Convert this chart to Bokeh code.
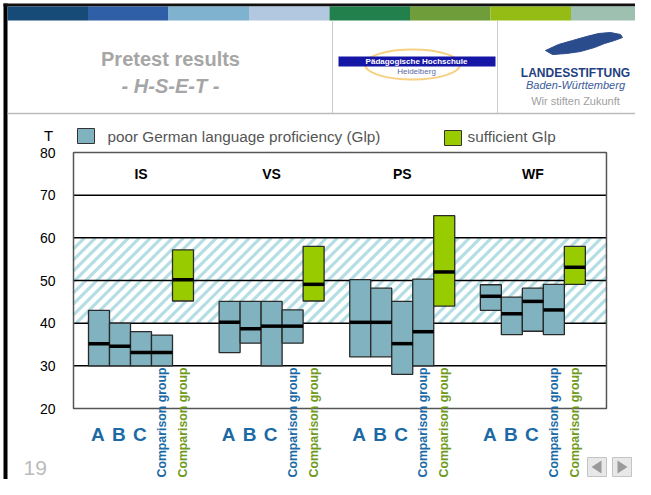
import numpy as np
from bokeh.plotting import figure
from bokeh.models import LinearAxis, FixedTicker, Range1d
from bokeh.core.properties import value
from bokeh.embed import file_html
from bokeh.resources import INLINE

# ---------------- data ----------------
subtests = ["IS", "VS", "PS", "WF"]
abc_labels = ["A", "B", "C"]
comp_label = "Comparison group"
y_ticks = [20, 30, 40, 50, 60, 70, 80]
grid_levels = [30, 40, 50, 60, 70]
band = [40, 60]

# per subtest: A, B, C, comparison (poor Glp), comparison (sufficient Glp)
is_min = [30.0, 30.0, 30.0, 30.0, 45.2]
is_med = [35.2, 34.6, 33.1, 33.1, 50.2]
is_max = [43.0, 40.0, 38.0, 37.2, 57.2]
vs_min = [33.1, 35.3, 30.0, 35.3, 45.2]
vs_med = [40.2, 38.7, 39.3, 39.3, 49.1]
vs_max = [45.1, 45.1, 45.1, 43.1, 58.0]
ps_min = [32.1, 32.1, 28.0, 30.0, 44.0]
ps_med = [40.2, 40.2, 35.2, 38.0, 52.0]
ps_max = [50.2, 48.2, 45.1, 50.3, 65.2]
wf_min = [43.0, 37.3, 38.1, 37.3, 49.1]
wf_med = [46.3, 42.2, 45.1, 43.1, 53.1]
wf_max = [49.0, 46.1, 48.2, 49.1, 58.0]

mins = [is_min, vs_min, ps_min, wf_min]
meds = [is_med, vs_med, ps_med, wf_med]
maxs = [is_max, vs_max, ps_max, wf_max]

# ---------------- layout constants ----------------
FONT = "Liberation Sans"
TEAL = "#80b2bf"
GREEN = "#99cc00"
BLUE_TXT = "#1b6aa6"
GREEN_TXT = "#6f9a1c"
W, H = 635, 479
PX_PER_U = 21.0           # one bar slot
LEFT_PX, TOP_PX = 73.0, 152.0
PX_PER_T = 256.0 / 60.0
first_offset, group_step = 0.714, 6.22
plot_left, plot_right = 0.0, 25.38

def sx(px):
    return (px - LEFT_PX) / PX_PER_U

def sy(py):
    return 80.0 - (py - TOP_PX) / PX_PER_T

def su(w):  # width in px -> x units
    return w / PX_PER_U

def st(h):  # height in px -> y units
    return h / PX_PER_T

p = figure(width=W, height=H, x_range=Range1d(sx(0), sx(W)),
           y_range=Range1d(sy(H), sy(0)), x_axis_type=None, y_axis_type=None,
           toolbar_location=None, output_backend="svg", min_border=0,
           outline_line_color=None, title=None)
p.background_fill_color = "white"
p.border_fill_color = "white"

# ---------------- slide frame & header ----------------
p.quad(left=[sx(3)], right=[sx(7)], bottom=[sy(H)], top=[sy(3)], fill_color="black", line_color=None)
p.quad(left=[sx(3)], right=[sx(W)], bottom=[sy(6)], top=[sy(3)], fill_color="#111111", line_color=None)
stripe_cols = ["#154b76", "#2f5fa6", "#7fb2cf", "#b1c8e0",
               "#21804b", "#6f9d3a", "#95bb15", "#9dc0b1"]
edges = [7 + i * 80.5 for i in range(9)]
p.quad(left=[sx(e) for e in edges[:-1]], right=[sx(e) for e in edges[1:]],
       bottom=sy(20), top=sy(6), fill_color=stripe_cols, line_color=None)
p.segment(x0=[sx(332), sx(497)], x1=[sx(332), sx(497)], y0=sy(20), y1=sy(113),
          line_color="#cccccc", line_width=1)
p.segment(x0=sx(7), x1=sx(W), y0=sy(113), y1=sy(113), line_color="#bbbbbb", line_width=1.5)

p.text(x=[sx(170)], y=[sy(58)], text=["Pretest results"], text_align="center",
       text_baseline="middle", text_font=value(FONT), text_font_style="bold",
       text_font_size="20px", text_color="#a6a6a6")
p.text(x=[sx(170)], y=[sy(85)], text=["- H-S-E-T -"], text_align="center",
       text_baseline="middle", text_font=value(FONT), text_font_style="bold italic",
       text_font_size="20px", text_color="#a6a6a6")

# logo 1
p.ellipse(x=[sx(412)], y=[sy(64)], width=su(95), height=st(30), fill_color=None,
          line_color="#f2bc4a", line_width=2, line_alpha=0.7)
p.quad(left=[sx(338)], right=[sx(495)], bottom=[sy(66)], top=[sy(56)],
       fill_color="#1616a6", line_color=None)
p.text(x=[sx(416)], y=[sy(61)], text=["Pädagogische Hochschule"], text_align="center",
       text_baseline="middle", text_font=value(FONT), text_font_style="bold",
       text_font_size="8px", text_color="white")
p.text(x=[sx(416)], y=[sy(71)], text=["Heidelberg"], text_align="center",
       text_baseline="middle", text_font=value(FONT), text_font_size="8px",
       text_color="#5a6aa8")

# logo 2
lion_x = [545, 558, 572, 586, 598, 610, 620, 622, 614, 604, 594, 580, 566, 552]
lion_y = [50, 44, 40, 36, 33, 32, 34, 37, 40, 43, 47, 51, 53, 54]
p.patch(x=[sx(v) for v in lion_x], y=[sy(v) for v in lion_y],
        fill_color="#2b4c8c", line_color="#2b4c8c")
p.text(x=[sx(575)], y=[sy(72)], text=["LANDESSTIFTUNG"], text_align="center",
       text_baseline="middle", text_font=value(FONT), text_font_style="bold",
       text_font_size="12px", text_color="#22407e")
p.text(x=[sx(575)], y=[sy(84)], text=["Baden-Württemberg"], text_align="center",
       text_baseline="middle", text_font=value(FONT), text_font_style="italic",
       text_font_size="11px", text_color="#3a5a9a")
p.text(x=[sx(575)], y=[sy(100)], text=["Wir stiften Zukunft"], text_align="center",
       text_baseline="middle", text_font=value(FONT), text_font_size="11px",
       text_color="#a0a0a0")

# ---------------- legend row ----------------
p.text(x=[sx(48)], y=[sy(135)], text=["T"], text_align="center", text_baseline="middle",
       text_font=value(FONT), text_font_size="15px", text_color="black")
p.quad(left=[sx(77)], right=[sx(94)], bottom=[sy(143)], top=[sy(128)],
       fill_color=TEAL, line_color="#333333", line_width=1)
p.text(x=[sx(107)], y=[sy(136)], text=["poor German language proficiency (Glp)"],
       text_align="left", text_baseline="middle", text_font=value(FONT),
       text_font_size="15.3px", text_color="#555555")
p.quad(left=[sx(444)], right=[sx(461)], bottom=[sy(145)], top=[sy(130)],
       fill_color=GREEN, line_color="#333333", line_width=1)
p.text(x=[sx(467)], y=[sy(136)], text=["sufficient Glp"],
       text_align="left", text_baseline="middle", text_font=value(FONT),
       text_font_size="15.3px", text_color="#555555")

# ---------------- chart ----------------
# diagonal (45 degree on screen) stripes filling the 40-60 band, clipped to the plot
slope = PX_PER_T / PX_PER_U          # x-units per T-unit for a 45 degree stripe
span = (band[1] - band[0]) * slope
hx0, hx1, hy0, hy1 = [], [], [], []
for c in np.arange(plot_left - span, plot_right, su(11)):
    y0 = max(band[0], band[0] + (plot_left - c) / slope)
    y1 = min(band[1], band[0] + (plot_right - c) / slope)
    if y1 > y0:
        hx0.append(c + (y0 - band[0]) * slope)
        hy0.append(y0)
        hx1.append(c + (y1 - band[0]) * slope)
        hy1.append(y1)
p.segment(x0=hx0, y0=hy0, x1=hx1, y1=hy1, line_color="#b5dee4", line_width=3.2,
          line_cap="butt")
p.segment(x0=plot_left, x1=plot_right, y0=grid_levels, y1=grid_levels,
          line_color="black", line_width=1.5)
p.quad(left=[plot_left], right=[plot_right], bottom=[y_ticks[0]], top=[y_ticks[-1]],
       fill_color=None, line_color="#555555", line_width=1.5)

xs, lo, hi, md, cols = [], [], [], [], []
for g in range(len(subtests)):
    start = first_offset + g * group_step
    for i in range(5):
        xs.append(start + i + 0.5)
        lo.append(mins[g][i])
        hi.append(maxs[g][i])
        md.append(meds[g][i])
        cols.append(GREEN if i == 4 else TEAL)
xs = np.array(xs)
p.vbar(x=xs, width=1.0, bottom=lo, top=hi, fill_color=cols, line_color="#2a2a2a",
       line_width=1.3)
p.segment(x0=xs - 0.5, x1=xs + 0.5, y0=md, y1=md, line_color="black", line_width=3.5)

# subtest names
centers = [first_offset + g * group_step + 2.5 for g in range(len(subtests))]
p.text(x=centers, y=[75] * 4, text=subtests, text_align="center", text_baseline="middle",
       text_font=value(FONT), text_font_style="bold", text_font_size="14px",
       text_color="black")

# A B C labels and vertical comparison labels
abc_x, abc_t, cx, ct, cc = [], [], [], [], []
for g in range(len(subtests)):
    start = first_offset + g * group_step
    for i, lab in enumerate(abc_labels):
        abc_x.append(start + i + 0.45)
        abc_t.append(lab)
    cx += [start + 3.5, start + 4.5]
    ct += [comp_label, comp_label]
    cc += [BLUE_TXT, GREEN_TXT]
p.text(x=abc_x, y=[sy(434)] * len(abc_x), text=abc_t, text_align="center",
       text_baseline="middle", text_font=value(FONT), text_font_style="bold",
       text_font_size="19px", text_color=BLUE_TXT)
p.text(x=cx, y=[sy(367)] * len(cx), text=ct, angle=np.pi / 2, text_align="right",
       text_baseline="middle", text_font=value(FONT), text_font_style="bold",
       text_font_size="12.3px", text_color=cc)

# y axis
yaxis = LinearAxis(fixed_location=plot_left, ticker=FixedTicker(ticks=y_ticks),
                   axis_line_color=None, major_tick_line_color=None,
                   minor_tick_line_color=None, major_tick_in=0, major_tick_out=0,
                   major_label_standoff=18, major_label_text_font=FONT,
                   major_label_text_font_size="14px", major_label_text_color="black")
p.add_layout(yaxis, "left")

# ---------------- footer ----------------
p.text(x=[sx(23)], y=[sy(467)], text=["19"], text_align="left", text_baseline="middle",
       text_font=value(FONT), text_font_size="21px", text_color="#bbbbbb")
p.quad(left=[sx(587), sx(612)], right=[sx(606), sx(631)], bottom=sy(476), top=sy(457),
       fill_color="#e8e8e8", line_color="#c4c4c4")
p.patches(xs=[[sx(591), sx(601), sx(601)], [sx(617), sx(627), sx(617)]],
          ys=[[sy(466.5), sy(460), sy(473)], [sy(460), sy(466.5), sy(473)]],
          fill_color="#9a9a9a", line_color=None)

open("out.html", "w").write(file_html(p, INLINE))
